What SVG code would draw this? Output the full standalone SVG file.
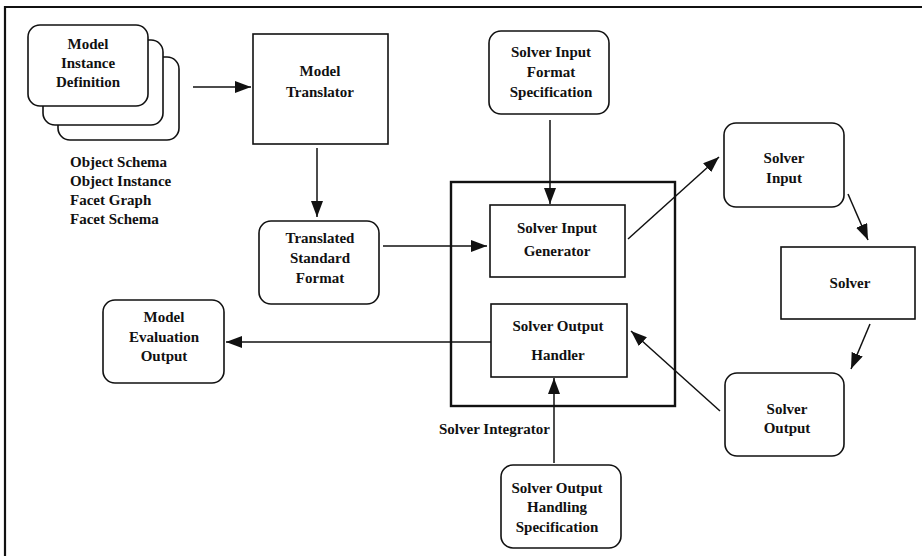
<svg xmlns="http://www.w3.org/2000/svg" width="922" height="556" viewBox="0 0 922 556">
  <style>
    .box { fill: #fff; stroke: #111; stroke-width: 1.6; }
    .frame { fill: none; stroke: #111; stroke-width: 2.2; }
    .link { fill: none; stroke: #111; stroke-width: 1.5; }
    text { font-family: "Liberation Serif", "Times New Roman", serif; font-size: 15px; font-weight: bold; fill: #111; }
    .c { text-anchor: middle; }
  </style>
  <defs>
    <marker id="arrow" markerUnits="userSpaceOnUse" markerWidth="18" markerHeight="12" refX="16" refY="6" orient="auto">
      <path d="M0,0 L16,6 L0,12 Z" fill="#111"/>
    </marker>
  </defs>

  <rect width="922" height="556" fill="#fff"/>
  <!-- outer border -->
  <path class="frame" d="M5,560 L5,7 L925,7"/>

  <!-- solver integrator container -->
  <g id="solver-integrator">
    <rect x="451" y="182" width="224" height="224" fill="none" stroke="#111" stroke-width="2.4"/>
    <text x="439" y="434">Solver Integrator</text>
  </g>

  <g id="connectors">
    <line class="link" x1="193" y1="87" x2="251" y2="87" marker-end="url(#arrow)"/>
    <line class="link" x1="317" y1="148" x2="317" y2="217" marker-end="url(#arrow)"/>
    <line class="link" x1="383" y1="246" x2="487" y2="246" marker-end="url(#arrow)"/>
    <line class="link" x1="550" y1="120" x2="550" y2="204" marker-end="url(#arrow)"/>
    <line class="link" x1="628" y1="239" x2="719" y2="157" marker-end="url(#arrow)"/>
    <line class="link" x1="848" y1="194" x2="868" y2="240" marker-end="url(#arrow)"/>
    <line class="link" x1="870" y1="324" x2="851" y2="369" marker-end="url(#arrow)"/>
    <line class="link" x1="720" y1="411" x2="631" y2="331" marker-end="url(#arrow)"/>
    <line class="link" x1="491" y1="342" x2="226" y2="342" marker-end="url(#arrow)"/>
    <line class="link" x1="554" y1="463" x2="554" y2="378" marker-end="url(#arrow)"/>
  </g>

  <g id="model-instance-definition">
    <rect class="box" x="58" y="57" width="121" height="83" rx="12"/>
    <rect class="box" x="43" y="40" width="120" height="85" rx="12"/>
    <rect class="box" x="28" y="25" width="120" height="81" rx="12"/>
    <text class="c" x="88" y="49">Model</text>
    <text class="c" x="88" y="68">Instance</text>
    <text class="c" x="88" y="87">Definition</text>
  </g>

  <g id="schema-list">
    <text x="70" y="167">Object Schema</text>
    <text x="70" y="186">Object Instance</text>
    <text x="70" y="205">Facet Graph</text>
    <text x="70" y="224">Facet Schema</text>
  </g>

  <g id="model-translator">
    <rect class="box" x="253" y="34" width="135" height="110"/>
    <text class="c" x="320" y="76">Model</text>
    <text class="c" x="320" y="97">Translator</text>
  </g>

  <g id="translated-standard-format">
    <rect class="box" x="259" y="221" width="120" height="83" rx="12"/>
    <text class="c" x="320" y="243">Translated</text>
    <text class="c" x="320" y="263">Standard</text>
    <text class="c" x="320" y="283">Format</text>
  </g>

  <g id="solver-input-format-spec">
    <rect class="box" x="489" y="31" width="120" height="83" rx="12"/>
    <text class="c" x="551" y="57">Solver Input</text>
    <text class="c" x="551" y="77">Format</text>
    <text class="c" x="551" y="97">Specification</text>
  </g>

  <g id="solver-input-generator">
    <rect class="box" x="490" y="205" width="135" height="72"/>
    <text class="c" x="557" y="233">Solver Input</text>
    <text class="c" x="557" y="256">Generator</text>
  </g>

  <g id="solver-output-handler">
    <rect class="box" x="491" y="304" width="136" height="73"/>
    <text class="c" x="558" y="331">Solver Output</text>
    <text class="c" x="558" y="360">Handler</text>
  </g>

  <g id="model-evaluation-output">
    <rect class="box" x="103" y="300" width="121" height="83" rx="12"/>
    <text class="c" x="164" y="322">Model</text>
    <text class="c" x="164" y="342">Evaluation</text>
    <text class="c" x="164" y="361">Output</text>
  </g>

  <g id="solver-input">
    <rect class="box" x="724" y="123" width="120" height="84" rx="12"/>
    <text class="c" x="784" y="163">Solver</text>
    <text class="c" x="784" y="183">Input</text>
  </g>

  <g id="solver">
    <rect class="box" x="781" y="247" width="134" height="72"/>
    <text class="c" x="850" y="288">Solver</text>
  </g>

  <g id="solver-output">
    <rect class="box" x="725" y="373" width="119" height="83" rx="12"/>
    <text class="c" x="787" y="414">Solver</text>
    <text class="c" x="787" y="433">Output</text>
  </g>

  <g id="solver-output-handling-spec">
    <rect class="box" x="501" y="465" width="120" height="83" rx="12"/>
    <text class="c" x="557" y="493">Solver Output</text>
    <text class="c" x="557" y="512">Handling</text>
    <text class="c" x="557" y="532">Specification</text>
  </g>
</svg>
